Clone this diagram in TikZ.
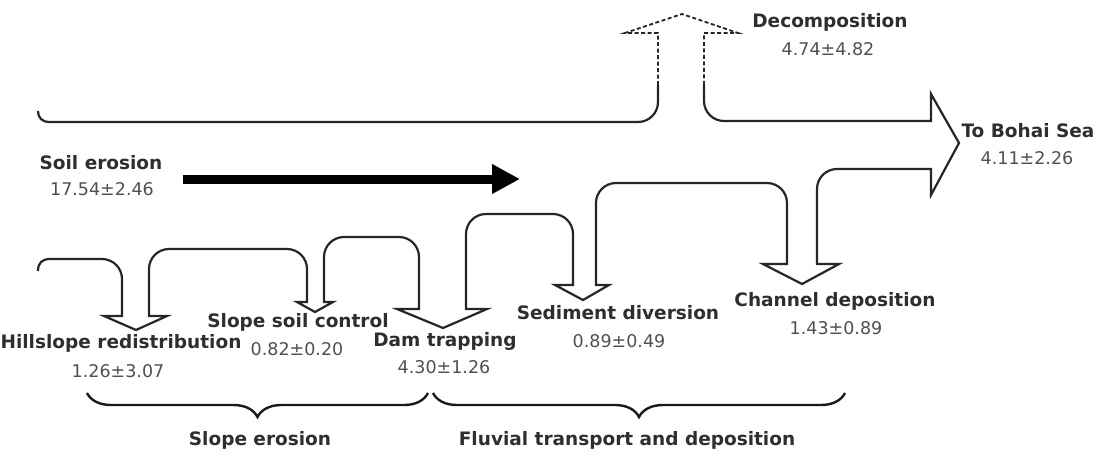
\documentclass[tikz,border=0pt]{standalone}
\usepackage{fontspec}
\setmainfont{DejaVu Sans}
\usetikzlibrary{arrows.meta,decorations.pathreplacing}
\definecolor{labelgray}{HTML}{2E2E2E}
\definecolor{valgray}{HTML}{505050}
\tikzset{
	lbl/.style={inner sep=0pt,text=labelgray,font=\fontsize{18.5}{20}\selectfont\bfseries},
	val/.style={inner sep=0pt,text=valgray,font=\fontsize{17.5}{20}\selectfont},
	outline/.style={draw=black!85,line width=2.2pt,line join=miter},
	dashoutline/.style={outline,line width=1.8pt,dash pattern=on 4pt off 2.5pt},
	bracestyle/.style={draw=black!90,decorate,decoration={brace,amplitude=24pt,mirror},line width=2.4pt}
}
\begin{document}
\begin{tikzpicture}[x=1pt,y=-1pt]
	\useasboundingbox (0,0) rectangle (1096,456);
	\draw[outline] (38,111) .. controls (38,118) and (42,122) .. (50,122) [rounded corners=20pt] -- (658,122) [sharp corners] -- (658,85);
	\draw[dashoutline] (658,85) -- (658,33) -- (625,33) -- (682,14) -- (738,33) -- (704,33) -- (704,85);
	\draw[outline] (704,85) [rounded corners=20pt] -- (704,121) [sharp corners] -- (931,121) -- (931,94) -- (959,143) -- (931,195) -- (931,169)
		[rounded corners=20pt] -- (817,169) [sharp corners] -- (817,264) -- (839,264) -- (802,284) -- (763,264) -- (787,264)
		[rounded corners=20pt] -- (787,183) -- (596,183) [sharp corners] -- (596,285) -- (609,285) -- (583,300) -- (555,285) -- (573,285)
		[rounded corners=20pt] -- (573,214) -- (466,214) [sharp corners] -- (466,309) -- (487,309) -- (443,328) -- (397,309) -- (419,309)
		[rounded corners=20pt] -- (419,237) -- (324,237) [sharp corners] -- (324,302) -- (333,302) -- (315,312) -- (297,302) -- (307,302)
		[rounded corners=20pt] -- (307,249) -- (149,249) [sharp corners] -- (149,316) -- (167,316) -- (136,330) -- (104,316) -- (122,316)
		[rounded corners=20pt] -- (122,259) [sharp corners] -- (50,259) .. controls (42,259) and (38,263) .. (38,271);
	\draw[black,line width=9pt,-{Triangle[length=28pt,width=28pt]}] (183,179) -- (520,179);
	\node[lbl] (decomp) at (830,22) {Decomposition};
	\node[val] (decompval) at (828,49) {4.74±4.82};
	\node[lbl] (bohai) at (1028,131) {To Bohai Sea};
	\node[val] (bohaival) at (1027,158) {4.11±2.26};
	\node[lbl] (soil) at (101,163) {Soil erosion};
	\node[val] (soilval) at (102,189) {17.54±2.46};
	\node[lbl] (hill) at (121,343) {Hillslope redistribution};
	\node[val] (hillval) at (118,371) {1.26±3.07};
	\node[lbl] (slope) at (298,322) {Slope soil control};
	\node[val] (slopeval) at (297,349) {0.82±0.20};
	\node[lbl] (dam) at (445,341) {Dam trapping};
	\node[val] (damval) at (444,367) {4.30±1.26};
	\node[lbl] (divert) at (618,313) {Sediment diversion};
	\node[val] (divertval) at (619,341) {0.89±0.49};
	\node[lbl] (channel) at (835,301) {Channel deposition};
	\node[val] (channelval) at (836,328) {1.43±0.89};
	\draw[bracestyle] (87,393) -- (428,393);
	\draw[bracestyle] (433,393) -- (845,393);
	\node[lbl] (slopeero) at (260,440) {Slope erosion};
	\node[lbl] (fluvial) at (627,440) {Fluvial transport and deposition};
\end{tikzpicture}
\end{document}
